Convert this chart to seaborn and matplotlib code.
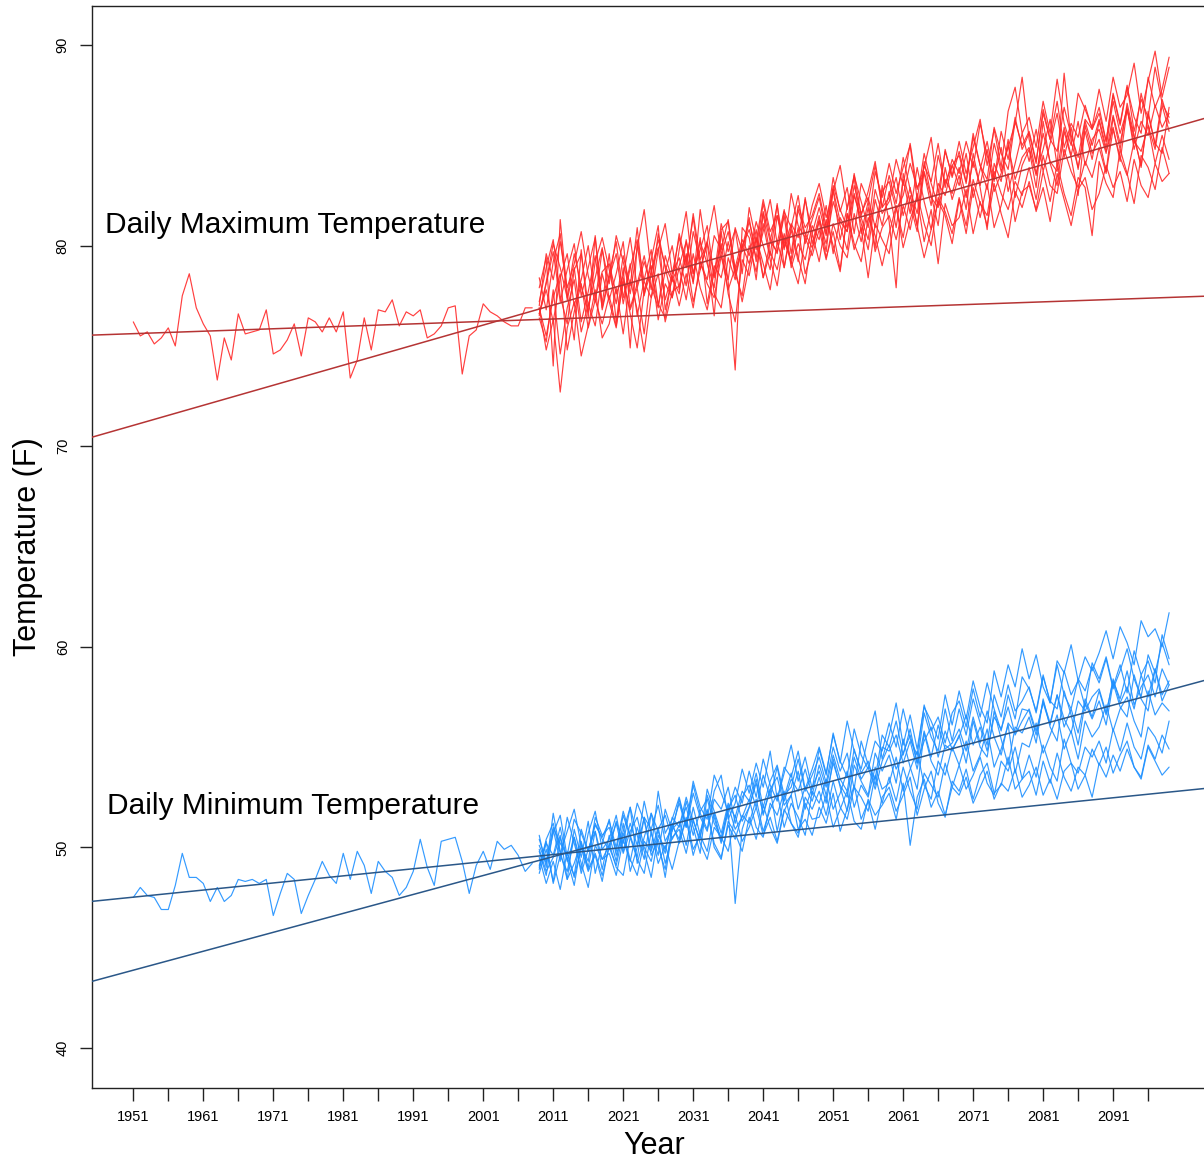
import numpy as np
import pandas as pd
import matplotlib
matplotlib.use("Agg")
import matplotlib.pyplot as plt
import seaborn as sns
from matplotlib.ticker import FixedLocator, FixedFormatter

# ---------------- data ----------------
hist_years = list(range(1951, 2009))
hist_max = [76.2, 75.5, 75.7, 75.1, 75.4, 75.9, 75.0, 77.5, 78.6, 76.9,
            76.1, 75.5, 73.3, 75.4, 74.3, 76.6, 75.6, 75.7, 75.8, 76.8,
            74.6, 74.8, 75.3, 76.1, 74.5, 76.4, 76.2, 75.7, 76.4, 75.7,
            76.7, 73.4, 74.3, 76.4, 74.8, 76.8, 76.7, 77.3, 76.0, 76.7,
            76.5, 76.8, 75.4, 75.6, 76.0, 76.9, 77.0, 73.6, 75.5, 75.8,
            77.1, 76.7, 76.5, 76.2, 76.0, 76.0, 76.9, 76.9]
hist_min = [47.5, 48.0, 47.6, 47.5, 46.9, 46.9, 48.1, 49.7, 48.5, 48.5,
            48.2, 47.3, 48.0, 47.3, 47.6, 48.4, 48.3, 48.4, 48.2, 48.4,
            46.6, 47.7, 48.7, 48.4, 46.7, 47.6, 48.4, 49.3, 48.6, 48.2,
            49.7, 48.4, 49.8, 49.1, 47.7, 49.3, 48.8, 48.5, 47.6, 48.0,
            48.8, 50.4, 49.0, 48.1, 50.3, 50.4, 50.5, 49.3, 47.7, 49.1,
            49.8, 48.9, 50.3, 49.9, 50.1, 49.6, 48.8, 49.2]

fut_years = list(range(2009, 2100))

fut_max_m1 = [77.2, 78.9, 80.3, 77.5, 76.1, 78.8, 79.6, 77.0, 78.4, 79.9,
              77.3, 78.6, 80.2, 76.9, 78.1, 79.5, 77.8, 80.6, 78.9, 77.4,
              79.8, 81.7, 78.6, 80.2, 79.1, 77.9, 80.8, 81.2, 78.5, 79.9,
              81.4, 79.2, 80.7, 82.3, 80.1, 81.8, 79.6, 82.0, 80.9, 81.5,
              82.6, 80.9, 83.4, 81.7, 82.9, 80.6, 83.1, 82.2, 84.0, 81.9,
              82.4, 84.3, 83.0, 85.1, 82.8, 83.9, 85.4, 82.6, 84.7, 83.5,
              85.2, 83.6, 84.9, 86.3, 84.0, 85.8, 83.9, 86.7, 87.9, 85.6,
              86.4, 84.9, 87.2, 85.6, 88.3, 86.1, 85.0, 87.6, 86.8, 85.9,
              87.8, 86.2, 88.4, 86.9, 87.5, 89.1, 86.6, 88.2, 89.7, 87.4, 88.9]
fut_max_m2 = [76.4, 75.2, 77.8, 74.6, 76.9, 78.3, 75.7, 77.1, 76.0, 78.6,
              77.2, 75.9, 78.4, 76.6, 74.9, 77.8, 79.0, 76.3, 78.1, 77.4,
              78.9, 77.3, 79.6, 77.9, 76.8, 78.7, 80.1, 77.6, 76.2, 79.3,
              78.5, 80.4, 79.1, 77.8, 80.2, 78.9, 81.0, 79.4, 78.1, 80.6,
              79.2, 81.3, 80.0, 78.7, 81.6, 79.8, 80.9, 78.4, 81.1, 80.3,
              79.6, 81.9, 80.4, 82.5, 81.0, 79.4, 80.8, 82.2, 81.5, 80.1,
              82.3, 80.6, 82.9, 81.4, 83.1, 80.9, 82.0, 83.6, 81.2, 82.7,
              83.0, 81.8, 83.7, 82.2, 84.1, 82.6, 81.5, 83.4, 82.9, 80.5,
              84.2, 83.1, 82.4, 84.8, 83.6, 82.1, 84.5, 83.9, 82.8, 84.9, 83.6]
fut_max_m3 = [77.9, 79.4, 74.0, 81.3, 77.6, 75.3, 79.8, 76.4, 80.5, 77.1,
              79.6, 76.2, 78.9, 74.9, 80.1, 77.5, 79.3, 81.0, 76.8, 78.4,
              77.6, 80.3, 78.1, 81.8, 79.4, 76.5, 80.7, 78.2, 73.8, 80.9,
              80.4, 78.3, 81.6, 79.5, 82.1, 78.9, 80.8, 79.2, 82.4, 80.1,
              81.5, 79.7, 82.8, 80.3, 81.9, 83.4, 80.6, 82.2, 79.9, 83.0,
              81.2, 77.9, 83.6, 82.1, 80.7, 84.2, 82.5, 81.0, 83.9, 82.3,
              83.5, 81.8, 84.6, 82.9, 80.8, 84.1, 83.2, 85.3, 82.4, 84.0,
              84.8, 82.9, 86.2, 84.1, 83.0, 85.7, 84.4, 82.5, 86.0, 84.6,
              85.3, 83.7, 86.4, 84.8, 87.1, 85.5, 83.9, 86.7, 85.0, 87.3, 86.1]
fut_max_m4 = [76.5, 78.2, 80.1, 78.9, 77.4, 79.6, 78.0, 76.7, 79.2, 80.4,
              78.8, 77.1, 79.5, 78.0, 80.9, 77.6, 78.7, 79.9, 77.3, 78.6,
              80.4, 78.9, 81.6, 79.3, 80.2, 78.5, 81.1, 79.7, 80.8, 78.6,
              81.9, 80.2, 82.3, 80.7, 81.5, 79.8, 82.6, 81.0, 80.4, 82.0,
              83.1, 81.4, 82.7, 84.0, 81.8, 83.5, 82.2, 80.9, 83.7, 82.4,
              84.1, 82.6, 83.9, 85.0, 82.3, 84.6, 83.1, 82.0, 84.8, 83.4,
              84.7, 83.2, 85.6, 84.0, 82.8, 85.1, 83.7, 84.9, 86.1, 88.4,
              85.3, 83.6, 84.8, 86.3, 84.0, 88.6, 85.2, 83.9, 85.7, 84.3,
              86.2, 84.7, 85.9, 84.2, 86.8, 85.4, 84.0, 86.5, 85.1, 84.6, 86.9]
fut_max_m5 = [76.9, 74.8, 76.3, 72.7, 75.9, 77.2, 74.5, 76.0, 77.8, 75.4,
              76.1, 77.9, 75.6, 78.3, 76.8, 74.7, 77.4, 78.6, 76.2, 77.7,
              78.0, 79.5, 77.2, 78.8, 80.1, 77.6, 76.9, 79.4, 78.3, 80.0,
              79.1, 80.8, 78.4, 80.2, 79.7, 81.5, 78.9, 80.1, 79.3, 81.0,
              80.3, 82.0, 79.6, 81.4, 80.7, 82.6, 81.1, 79.8, 82.3, 81.0,
              82.7, 80.9, 83.3, 81.6, 83.9, 82.2, 80.8, 83.1, 82.5, 84.0,
              83.0, 84.6, 82.4, 83.8, 85.2, 83.3, 84.9, 82.7, 84.1, 85.6,
              84.2, 85.8, 83.7, 85.1, 86.6, 84.4, 85.9, 83.8, 86.2, 85.0,
              86.3, 84.9, 87.2, 85.6, 86.8, 85.1, 87.6, 86.0, 84.8, 87.0, 85.7]
fut_max_m6 = [78.4, 76.8, 79.2, 80.6, 77.3, 78.9, 76.2, 77.7, 79.5, 76.9,
              78.6, 80.2, 77.4, 79.1, 76.5, 78.3, 79.8, 77.0, 78.7, 80.0,
              77.8, 79.6, 78.2, 80.4, 77.1, 79.0, 78.4, 80.2, 78.6, 77.5,
              80.0, 78.7, 81.1, 79.3, 78.0, 80.4, 79.1, 80.9, 78.6, 79.8,
              81.2, 79.4, 80.7, 78.8, 81.6, 80.1, 79.2, 81.4, 80.5, 79.0,
              80.6, 82.0, 79.9, 81.3, 82.4, 80.2, 81.8, 79.1, 82.1, 81.0,
              81.4, 82.8, 80.6, 82.2, 81.0, 83.1, 81.6, 80.4, 82.7, 81.9,
              83.2, 81.7, 82.9, 81.2, 83.6, 82.3, 81.0, 82.8, 83.4, 81.8,
              82.6, 84.0, 82.9, 83.7, 82.2, 84.3, 83.0, 82.4, 84.1, 83.2, 83.6]
fut_max_m7 = [77.0, 79.6, 78.3, 80.2, 77.9, 79.1, 80.7, 78.5, 77.2, 79.8,
              78.1, 80.5, 79.2, 77.6, 79.9, 81.8, 78.7, 80.3, 79.0, 78.2,
              80.6, 79.1, 81.4, 78.8, 80.2, 82.0, 79.5, 78.3, 80.9, 79.7,
              81.2, 79.8, 82.1, 80.4, 79.6, 81.7, 80.9, 82.5, 80.1, 81.3,
              82.4, 80.6, 83.0, 81.8, 80.9, 83.6, 81.5, 82.7, 84.2, 81.9,
              83.5, 82.1, 84.4, 82.8, 81.6, 84.0, 83.2, 85.1, 82.9, 84.3,
              83.6, 85.2, 83.9, 86.1, 84.5, 83.2, 85.7, 84.3, 86.4, 84.8,
              85.6, 84.1, 86.8, 85.3, 87.2, 84.9, 86.1, 85.4, 87.0, 85.8,
              86.9, 85.2, 87.6, 86.1, 88.0, 85.7, 87.3, 86.4, 88.9, 87.1, 86.4]
fut_max_m8 = [76.9, 75.5, 77.4, 78.6, 74.8, 76.7, 78.1, 75.9, 77.3, 76.1,
              77.5, 76.0, 78.2, 76.8, 77.9, 75.6, 78.7, 77.1, 76.4, 78.5,
              77.0, 78.6, 76.9, 79.2, 78.1, 77.4, 79.5, 77.8, 78.9, 77.2,
              79.0, 80.3, 78.4, 79.7, 78.8, 80.6, 79.2, 78.1, 80.4, 79.5,
              80.8, 79.3, 81.1, 80.0, 79.4, 81.6, 80.2, 81.9, 79.7, 80.9,
              81.5, 80.3, 82.0, 80.8, 82.6, 81.1, 80.0, 82.4, 81.7, 80.6,
              82.4, 81.0, 83.3, 82.1, 81.5, 83.7, 82.6, 81.8, 83.2, 82.5,
              83.9, 82.3, 84.5, 83.0, 82.6, 84.8, 83.7, 82.9, 84.2, 83.4,
              84.9, 83.6, 85.8, 84.4, 83.5, 85.2, 84.7, 86.0, 84.1, 85.5, 84.3]
fut_max_m9 = [76.6, 78.1, 79.7, 77.2, 78.8, 80.1, 77.5, 78.9, 80.4, 76.8,
              78.4, 79.6, 77.1, 78.9, 80.3, 78.2, 77.4, 79.8, 81.1, 78.6,
              79.4, 78.0, 80.7, 79.2, 78.3, 80.5, 79.8, 81.3, 78.7, 80.0,
              80.8, 79.4, 81.7, 80.2, 82.0, 79.9, 81.1, 80.4, 82.3, 80.6,
              81.9, 80.5, 82.8, 81.2, 80.7, 83.0, 81.6, 82.4, 80.9, 82.7,
              83.2, 81.8, 82.5, 84.1, 82.9, 83.6, 82.0, 84.5, 83.1, 84.0,
              84.5, 83.1, 85.4, 84.0, 83.3, 85.9, 84.6, 83.8, 86.2, 85.0,
              85.7, 84.2, 86.6, 85.3, 84.7, 86.9, 85.5, 84.4, 86.3, 85.8,
              86.6, 85.2, 87.5, 86.0, 87.9, 86.4, 85.6, 88.4, 86.9, 87.8, 89.4]
fut_max_m10 = [76.6, 77.8, 76.2, 78.4, 79.6, 77.0, 78.3, 80.0, 77.4, 78.7,
               79.1, 77.6, 78.5, 80.4, 77.9, 79.2, 78.0, 76.9, 79.5, 78.3,
               79.0, 80.2, 78.6, 79.8, 81.0, 78.4, 79.6, 80.7, 78.9, 80.3,
               79.5, 81.2, 80.0, 78.8, 81.5, 80.2, 79.3, 81.8, 80.6, 79.9,
               81.3, 80.1, 82.2, 81.0, 79.8, 82.5, 81.4, 80.3, 82.8, 81.6,
               82.2, 83.4, 81.5, 82.9, 81.0, 83.7, 82.4, 81.9, 83.3, 82.6,
               83.9, 82.4, 84.2, 83.0, 84.8, 82.7, 83.6, 85.0, 83.3, 84.4,
               84.9, 83.5, 85.6, 84.2, 83.7, 85.9, 84.5, 86.2, 84.0, 85.3,
               85.8, 84.6, 86.5, 85.1, 86.9, 84.8, 86.2, 85.5, 87.0, 85.9, 86.6]

fut_min_m1 = [49.8, 48.6, 50.9, 49.3, 51.5, 50.2, 48.9, 50.7, 51.8, 49.9,
              50.4, 51.6, 49.8, 51.2, 50.1, 52.3, 50.7, 49.6, 51.9, 50.8,
              52.4, 51.0, 53.1, 51.7, 50.9, 52.8, 53.6, 51.4, 52.2, 53.9,
              52.7, 54.2, 53.0, 54.8, 52.4, 53.7, 55.1, 53.3, 54.5, 52.9,
              54.9, 53.6, 55.7, 54.2, 56.3, 54.8, 53.9, 55.5, 56.8, 54.4,
              55.6, 57.2, 55.1, 56.6, 54.9, 57.0, 56.3, 55.4, 57.6, 56.1,
              57.8, 56.4, 58.3, 57.0, 56.2, 58.8, 57.5, 59.1, 58.0, 59.9,
              58.4, 59.6, 58.0, 57.2, 59.3, 58.7, 60.1, 58.3, 59.5, 58.8,
              59.7, 60.8, 59.4, 61.0, 60.2, 59.1, 61.3, 60.5, 60.9, 60.0, 61.7]
fut_min_m2 = [49.1, 50.3, 48.2, 49.6, 48.8, 50.5, 49.2, 48.0, 50.1, 49.4,
              49.7, 48.6, 50.4, 49.3, 51.0, 49.8, 48.5, 50.6, 49.9, 51.2,
              50.2, 51.4, 49.6, 50.8, 51.9, 50.0, 49.4, 51.3, 50.7, 49.8,
              51.5, 50.4, 52.1, 51.0, 50.2, 51.8, 52.6, 50.9, 51.4, 50.6,
              52.0, 51.2, 52.7, 50.8, 51.9, 53.1, 51.4, 52.3, 50.9, 52.5,
              53.0, 51.8, 52.6, 53.5, 51.6, 52.9, 53.8, 52.2, 51.5, 53.3,
              52.8, 53.9, 52.4, 53.6, 54.2, 52.7, 53.1, 54.5, 52.9, 53.4,
              53.8, 52.6, 54.3, 53.2, 54.7, 53.5, 52.8, 54.0, 53.6, 54.9,
              54.1, 55.0, 53.7, 54.6, 55.3, 54.0, 53.5, 55.1, 54.4, 55.6, 54.9]
fut_min_m3 = [50.6, 49.0, 51.7, 49.8, 48.4, 50.9, 49.5, 51.3, 48.7, 50.2,
              51.4, 49.6, 50.8, 52.0, 49.2, 50.5, 51.7, 50.0, 48.9, 51.1,
              50.4, 52.3, 51.0, 49.7, 52.6, 51.5, 50.2, 51.8, 47.2, 50.9,
              52.0, 53.4, 51.6, 52.9, 50.8, 52.5, 53.7, 51.9, 53.0, 52.3,
              53.5, 52.2, 54.4, 53.0, 51.8, 54.1, 53.3, 52.6, 54.7, 53.8,
              54.6, 53.2, 55.4, 54.0, 52.9, 55.7, 54.3, 53.6, 55.1, 54.8,
              55.6, 54.2, 56.3, 55.0, 54.5, 56.8, 55.4, 54.1, 56.0, 55.7,
              56.5, 55.2, 57.4, 56.0, 55.3, 57.8, 56.6, 55.1, 57.2, 56.4,
              57.3, 56.1, 58.2, 57.0, 56.5, 58.6, 57.4, 56.8, 58.9, 57.6, 58.3]
fut_min_m4 = [49.0, 50.4, 51.2, 49.7, 50.8, 51.9, 50.1, 49.3, 51.5, 50.6,
              51.0, 49.8, 51.6, 50.5, 52.2, 51.3, 49.9, 52.8, 50.7, 51.4,
              52.5, 51.1, 53.3, 52.0, 51.4, 53.6, 52.7, 51.8, 53.0, 52.2,
              53.8, 52.5, 54.4, 53.1, 52.3, 54.0, 53.5, 54.8, 52.9, 53.9,
              55.0, 53.7, 55.6, 54.3, 53.5, 55.9, 54.6, 53.9, 55.3, 54.8,
              56.2, 55.0, 56.9, 55.4, 54.6, 57.1, 55.8, 56.5, 55.2, 56.7,
              57.3, 56.0, 57.9, 56.5, 58.2, 56.9, 55.8, 57.6, 56.4, 58.5,
              57.9, 56.8, 58.6, 57.2, 59.1, 57.6, 56.9, 58.4, 57.8, 59.0,
              58.2, 59.4, 57.9, 58.8, 59.9, 58.4, 57.5, 59.6, 58.7, 60.2, 59.1]
fut_min_m5 = [48.7, 49.9, 48.3, 50.5, 49.4, 48.1, 50.2, 49.0, 50.8, 48.9,
              50.6, 49.3, 51.2, 48.8, 50.0, 51.5, 49.6, 50.4, 48.5, 50.9,
              51.3, 50.1, 52.0, 50.6, 49.8, 51.7, 50.3, 52.1, 50.9, 51.5,
              52.4, 51.0, 50.5, 52.2, 51.6, 52.8, 51.2, 50.7, 52.5, 51.9,
              52.8, 51.6, 53.3, 52.0, 51.4, 53.0, 52.5, 51.8, 53.6, 52.2,
              53.5, 52.3, 54.0, 52.8, 51.9, 53.7, 53.1, 52.5, 54.2, 53.0,
              54.1, 52.9, 53.6, 54.5, 53.2, 52.6, 54.3, 53.8, 55.0, 53.4,
              54.6, 53.5, 55.1, 54.0, 53.3, 55.4, 54.2, 53.7, 55.0, 54.5,
              55.3, 54.2, 55.9, 54.8, 56.2, 55.0, 54.4, 56.0, 55.5, 54.7, 56.3]
fut_min_m6 = [50.1, 49.2, 50.7, 51.6, 49.5, 48.6, 50.9, 49.8, 51.2, 50.4,
              49.9, 51.3, 50.2, 52.0, 50.6, 49.4, 51.7, 50.8, 49.7, 51.5,
              51.0, 52.5, 51.3, 50.4, 52.9, 51.8, 50.7, 52.2, 51.5, 52.8,
              52.3, 53.7, 52.0, 53.3, 54.1, 52.6, 53.0, 54.4, 52.8, 53.6,
              54.5, 53.2, 55.0, 53.8, 54.7, 52.9, 55.3, 54.1, 53.4, 55.6,
              55.0, 56.3, 54.6, 55.9, 54.2, 56.7, 55.5, 54.8, 56.9, 55.3,
              56.9, 55.6, 57.4, 56.2, 55.1, 57.6, 56.5, 58.1, 56.8, 57.3,
              58.0, 56.7, 58.5, 57.3, 56.9, 58.8, 57.6, 58.3, 57.0, 59.2,
              58.4, 59.5, 58.0, 59.1, 57.7, 59.8, 58.6, 59.3, 58.2, 60.6, 59.4]
fut_min_m7 = [49.5, 48.2, 49.3, 47.9, 49.8, 48.5, 50.0, 48.8, 49.6, 48.3,
              50.2, 49.0, 48.6, 50.5, 49.4, 48.7, 50.8, 49.2, 50.1, 48.9,
              50.3, 51.5, 49.9, 50.6, 51.8, 50.2, 49.5, 51.1, 50.4, 51.6,
              51.2, 52.4, 50.8, 51.9, 52.7, 51.0, 52.2, 51.5, 50.6, 52.8,
              52.2, 53.4, 51.9, 52.7, 53.8, 52.0, 53.1, 52.5, 54.0, 52.9,
              53.2, 54.5, 52.8, 53.9, 54.8, 53.1, 52.4, 54.3, 53.6, 55.0,
              54.1, 55.3, 53.8, 54.6, 55.9, 54.0, 54.9, 56.1, 53.7, 55.2,
              55.0, 56.2, 54.7, 55.6, 56.6, 54.9, 55.8, 54.4, 56.3, 55.5,
              56.0, 57.1, 55.8, 56.9, 57.5, 56.3, 55.5, 57.8, 56.6, 57.2, 56.8]
fut_min_m8 = [50.4, 49.3, 51.0, 50.2, 49.6, 51.4, 50.7, 49.8, 51.1, 50.5,
              51.3, 50.0, 51.8, 50.6, 49.5, 51.5, 50.9, 52.1, 50.3, 51.0,
              52.2, 51.0, 52.7, 51.5, 50.8, 52.4, 51.9, 53.0, 51.2, 52.5,
              53.1, 52.0, 53.6, 52.5, 54.0, 52.3, 53.4, 52.8, 53.9, 52.6,
              54.1, 53.0, 54.6, 53.4, 52.8, 54.9, 53.7, 54.3, 53.1, 55.0,
              54.8, 55.6, 54.2, 55.3, 53.9, 55.8, 54.5, 56.1, 54.9, 55.2,
              55.9, 54.8, 56.5, 55.2, 56.8, 55.5, 54.6, 56.2, 55.7, 56.9,
              56.8, 55.6, 57.3, 56.2, 57.6, 56.0, 56.9, 55.7, 57.4, 56.5,
              57.8, 56.6, 58.4, 57.2, 58.0, 56.9, 58.6, 57.5, 58.9, 57.3, 58.1]
fut_min_m9 = [49.9, 48.8, 49.5, 50.6, 48.4, 49.2, 50.3, 48.9, 49.7, 48.6,
              50.0, 49.1, 50.7, 49.4, 48.6, 50.3, 49.8, 51.0, 49.2, 50.5,
              50.9, 49.7, 51.4, 50.2, 49.4, 51.0, 50.5, 49.8, 51.6, 50.3,
              51.0, 52.0, 50.6, 51.5, 50.3, 51.9, 51.2, 50.5, 52.2, 51.4,
              51.5, 52.6, 51.0, 51.9, 52.8, 51.3, 50.9, 52.4, 51.6, 52.1,
              52.7, 51.4, 53.2, 50.1, 52.5, 53.4, 52.0, 52.8, 51.6, 53.0,
              52.6, 53.5, 52.2, 53.0, 53.8, 52.4, 53.2, 52.8, 53.9, 52.5,
              53.1, 54.0, 52.6, 53.4, 52.4, 53.8, 54.2, 52.9, 53.6, 52.5,
              54.2, 53.5, 54.6, 53.8, 54.9, 54.0, 53.4, 55.0, 54.3, 53.6, 54.0]
fut_min_m10 = [48.9, 50.2, 49.6, 51.0, 49.3, 50.5, 48.7, 49.9, 50.8, 49.4,
               50.1, 51.2, 49.7, 50.8, 51.5, 50.0, 49.3, 50.9, 51.6, 50.4,
               51.1, 52.0, 50.6, 51.8, 52.4, 51.2, 50.5, 51.9, 52.6, 51.3,
               52.0, 53.2, 51.7, 52.9, 53.5, 52.1, 52.6, 53.8, 51.9, 53.0,
               53.8, 52.6, 54.2, 53.1, 52.5, 54.5, 53.4, 54.0, 52.9, 54.3,
               55.1, 53.9, 54.7, 55.6, 54.2, 55.3, 56.0, 54.5, 55.8, 54.9,
               55.5, 56.6, 55.1, 56.0, 54.8, 56.5, 55.9, 57.0, 55.6, 56.3,
               56.9, 55.8, 57.2, 56.1, 57.6, 56.4, 55.7, 57.3, 56.8, 57.5,
               57.9, 56.7, 58.3, 57.4, 58.8, 57.1, 58.0, 58.6, 57.5, 58.9, 58.1]

fut_max = {"m1": fut_max_m1, "m2": fut_max_m2, "m3": fut_max_m3, "m4": fut_max_m4,
           "m5": fut_max_m5, "m6": fut_max_m6, "m7": fut_max_m7, "m8": fut_max_m8,
           "m9": fut_max_m9, "m10": fut_max_m10}
fut_min = {"m1": fut_min_m1, "m2": fut_min_m2, "m3": fut_min_m3, "m4": fut_min_m4,
           "m5": fut_min_m5, "m6": fut_min_m6, "m7": fut_min_m7, "m8": fut_min_m8,
           "m9": fut_min_m9, "m10": fut_min_m10}

# linear trends: (value at reference year, slope per year)
trend_ref_year = 2000
hist_max_trend = (76.21, 0.0122)
fut_max_trend = (75.94, 0.100)
hist_min_trend = (49.25, 0.0354)
fut_min_trend = (48.50, 0.0944)

x_ticks = list(range(1951, 2097, 5))
x_labels = [str(y) if (y - 1951) % 10 == 0 else "" for y in x_ticks]
y_ticks = [40, 50, 60, 70, 80, 90]
y_labels = [str(v) for v in y_ticks]

label_max = "Daily Maximum Temperature"
label_min = "Daily Minimum Temperature"
x_title = "Year"
y_title = "Temperature (F)"

# ---------------- frames ----------------
def long_frame(years, members):
    rows = []
    for name, vals in members.items():
        for yr, v in zip(years, vals):
            rows.append((name, yr, v))
    return pd.DataFrame(rows, columns=["member", "year", "temp"])

df_fmax = long_frame(fut_years, fut_max)
df_fmin = long_frame(fut_years, fut_min)
df_hist = pd.DataFrame({"year": hist_years, "tmax": hist_max, "tmin": hist_min})

# ---------------- plot ----------------
sns.set_style("ticks")
plt.rcParams["font.family"] = ["Liberation Sans", "DejaVu Sans"]
plt.rcParams["text.color"] = "black"
plt.rcParams["axes.labelcolor"] = "black"
plt.rcParams["xtick.color"] = "black"
plt.rcParams["ytick.color"] = "black"

RED = "#ff2a2a"
BLUE = "#1e90ff"
RED_TREND = "#b53434"
BLUE_TREND = "#2a5788"

fig = plt.figure(figsize=(12.04, 11.60), dpi=100)
ax = fig.add_axes([92 / 1204, 72 / 1160, 1124 / 1204, 1082 / 1160])

sns.lineplot(data=df_fmax, x="year", y="temp", units="member", estimator=None,
             color=RED, lw=0.85, alpha=0.9, ax=ax, legend=False)
sns.lineplot(data=df_fmin, x="year", y="temp", units="member", estimator=None,
             color=BLUE, lw=0.85, alpha=0.9, ax=ax, legend=False)
sns.lineplot(data=df_hist, x="year", y="tmax", color=RED, lw=0.85, alpha=0.9, ax=ax)
sns.lineplot(data=df_hist, x="year", y="tmin", color=BLUE, lw=0.85, alpha=0.9, ax=ax)

for (val, slope), col in [(hist_max_trend, RED_TREND), (fut_max_trend, RED_TREND),
                          (hist_min_trend, BLUE_TREND), (fut_min_trend, BLUE_TREND)]:
    ax.axline((trend_ref_year, val), slope=slope, color=col, lw=1.1, zorder=5)

ax.set_xlim(1945.1, 2105.7)
ax.set_ylim(38.0, 91.95)

ax.xaxis.set_major_locator(FixedLocator(x_ticks))
ax.xaxis.set_major_formatter(FixedFormatter(x_labels))
ax.yaxis.set_major_locator(FixedLocator(y_ticks))
ax.yaxis.set_major_formatter(FixedFormatter(y_labels))
ax.tick_params(axis="both", which="major", direction="out", length=9, width=1,
               color="#222222", labelcolor="black", labelsize=10.5, pad=7,
               bottom=True, left=True, top=False, right=False)
ax.tick_params(axis="y", labelrotation=90)
for lab in ax.get_yticklabels():
    lab.set_va("center")

ax.set_xlabel(x_title, fontsize=22, labelpad=5, color="black")
ax.set_ylabel(y_title, fontsize=22, labelpad=9, color="black")

for side in ["left", "bottom", "top"]:
    ax.spines[side].set_visible(True)
    ax.spines[side].set_color("#222222")
    ax.spines[side].set_linewidth(1.0)
ax.spines["right"].set_visible(False)

ax.text(1947.0, 81.05, label_max, fontsize=21.5, ha="left", va="center", color="black")
ax.text(1947.3, 52.05, label_min, fontsize=21.5, ha="left", va="center", color="black")

fig.savefig("out.png", dpi=100)
